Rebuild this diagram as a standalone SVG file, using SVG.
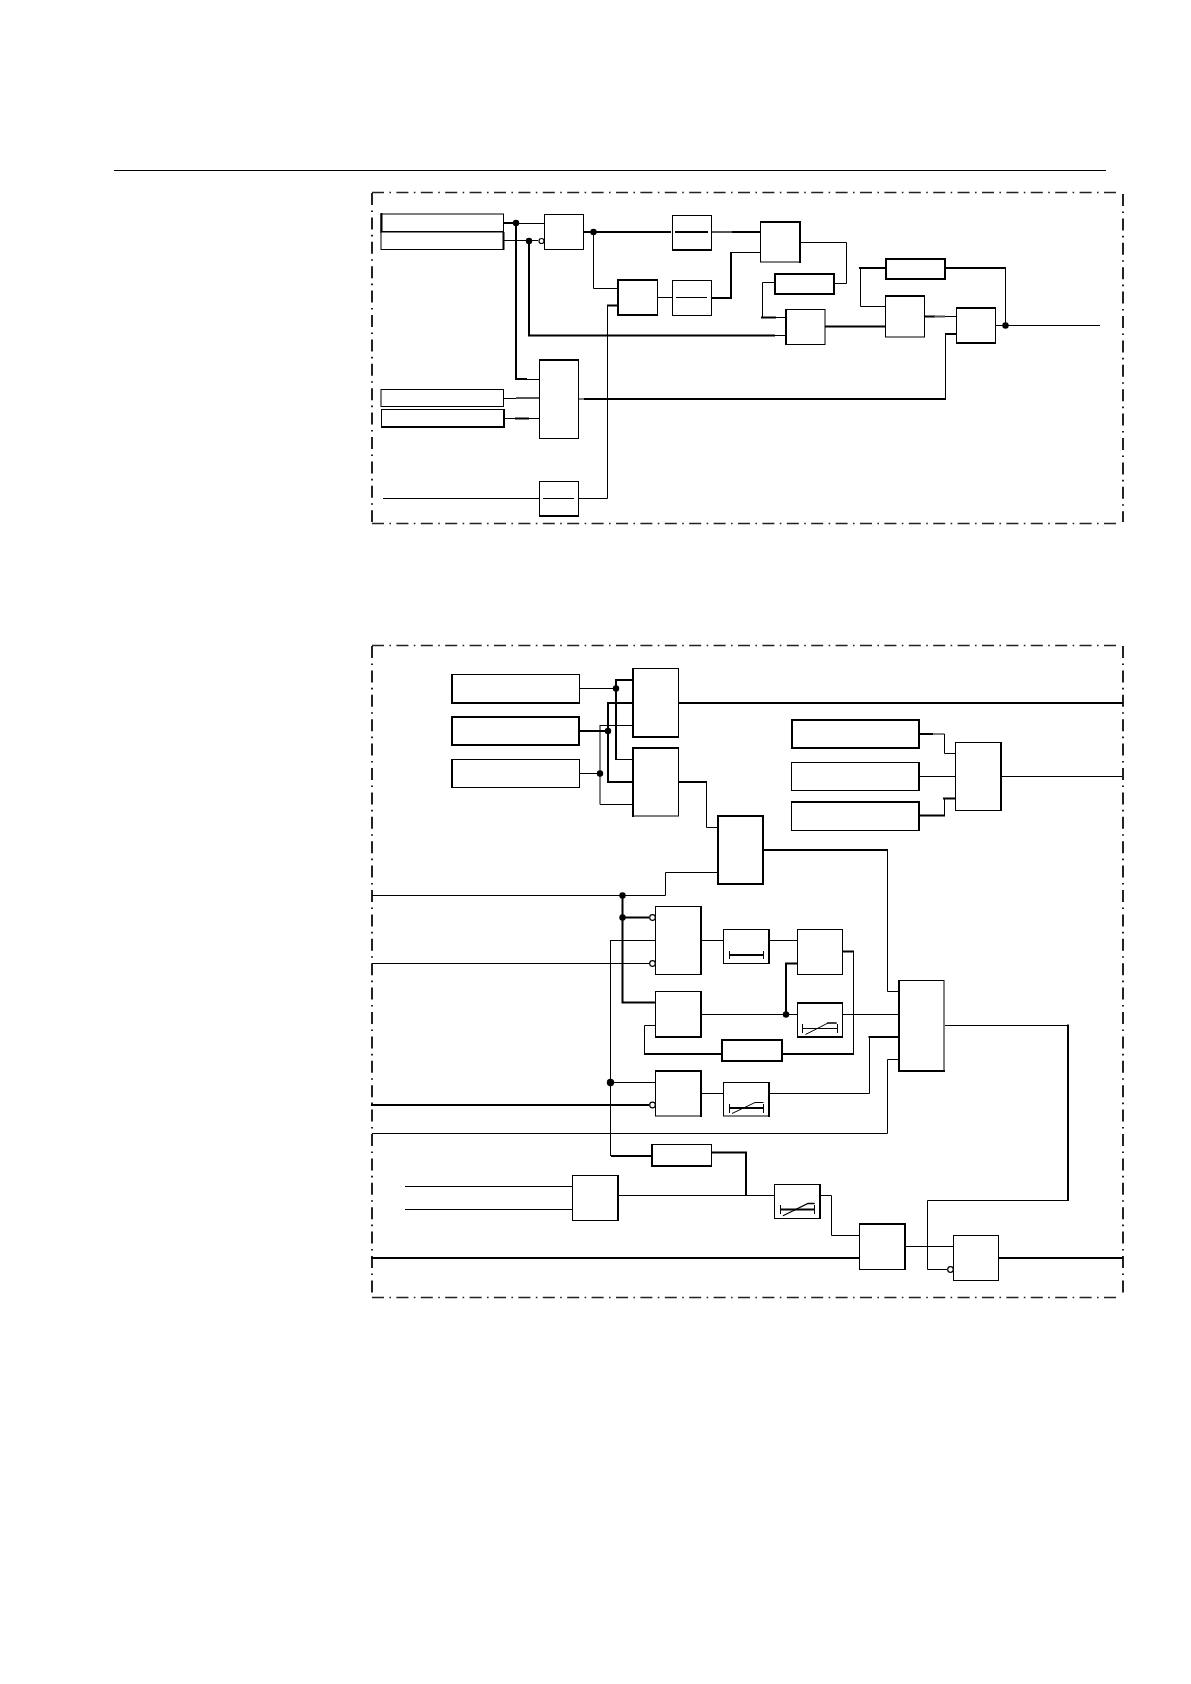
<svg xmlns="http://www.w3.org/2000/svg" width="1191" height="1684" viewBox="0 0 1191 1684">
<style>
.b{fill:#fff;stroke:#000;stroke-width:1}
.k{fill:none;stroke:#000;stroke-width:2;stroke-linecap:square}
.t{fill:none;stroke:#000;stroke-width:1}
.g{fill:none;stroke:#555;stroke-width:2}
.f{fill:none;stroke:#222;stroke-width:1.600;stroke-dasharray:12 5.400 1.600 5.400}
.v{stroke-width:2}
.d{fill:#000;stroke:none}
.o{fill:#fff;stroke:#000;stroke-width:1.200}
</style>
<rect width="1191" height="1684" fill="#fff"/>
<path class="t" d="M114 170.500H1106"/>
<g id="frames">
<path class="f" d="M372 192.500H1118M372 523.500H1118"/>
<path class="f v" d="M372 193V522M1123 194V522"/>
<path class="f" d="M372 645.500H1118M372 1297.500H1118"/>
<path class="f v" d="M372 646V1296M1123 646V1295"/>
</g>
<g id="connectors">
<path class="t" d="M516 223.500H544M503 240.500H538M593.500 232V288.500H618M618 297.500H672M731.500 252.500H760M800 242.500H846.500V283.500H835M775 282.500H762.500V317M775 317.500H785M775 335.500H785M526 379.500H539M504 398.500H539M504 418.500H539M579 399H600M383 498.500H539M579 498.500H607.500V306M885 306.500H860.500V268M956 316.500H925M1005.500 268V325M996 325.500H1100M945.500 399V334"/>
<path class="k" d="M504 223H516V379H526M584 232H670M732 232H760M529 241V335.500H774M712 298H731M731 298V253M608 305.500H618M762 317.500H775M825 326.500H885M860 268H885M946 268H1005M925 316.500H934M946 334H956M585 399H945M516 418.500H528"/>
<path class="g" d="M712 232H732M516 398H539M934 316.500H945"/>
<path class="t" d="M580 688.500H616M616 759.500H633M600 725.500H633M600 725V804.500H633M580 773.500H600M706.500 782V827.500H718M718 872.500H665.500V895.500H372M655 940.500H610.500M610.500 940V1156M655 1082.500H610.500M372 963.500H650M372 1133.500H887.500V1059.500H899M702 940.500H723M770 940.500H797M655 1025.500H644.500V1054M702 1014.500H797M843 1014.500H899M887.500 850V991.500H899M702 1093.500H723M770 1093.500H869.500V1037M853.500 951V1054M618 1195.500H774M821 1195.500H831.500V1235.500H859M905 1246.500H953M945 1025.500H1068M1068 1200.500H927.500V1269.500H947M919 776.500H955M1001 776.500H1122M932 734H944.500V753.500H955M944.500 815V798.500H955M405 1186.500H572M405 1209.500H572"/>
<path class="k" d="M616 680H633M616 680V759M608 703H633M608 703V782H633M580 731H608M678 703H1122M678 782H706M764 850H887M622.500 895.500V1002.500H655M622.500 917.500H648M645 1054H721M783 1054H853M843 951.500H853M786 1014V963.500H797M869.500 1037H899M372 1105H648M651 1156H612M712 1152.500H746V1195M372 1258H859M1068 1025.500V1200M999 1258H1122M920 734H932M920 815.500H944M944 798.500H955"/>
</g>
<g id="n1"><rect class="b" x="381" y="214" width="122.500" height="18"/><path class="k" d="M381.500 214V232H503"/></g>
<g id="n2"><rect class="b" x="381" y="232" width="122.500" height="17.500"/><path class="k" d="M503.500 233V249"/></g>
<g id="n3"><rect class="b" x="544.500" y="214.500" width="39" height="35"/></g>
<g id="n4"><rect class="b" x="672.500" y="215.500" width="39" height="34.500"/><path class="k" d="M673 250H711M676 232H707"/></g>
<g id="n5"><rect class="b" x="618" y="280" width="39.500" height="35"/><path class="k" d="M618 280H657M618 280V315H657"/></g>
<g id="n6"><rect class="b" x="672.500" y="280.500" width="39" height="35"/><path class="t" d="M676 297.500H707"/></g>
<g id="n7"><rect class="b" x="539.500" y="360.500" width="39" height="78"/><path class="k" d="M540 360H578"/></g>
<g id="n8"><rect class="b" x="381" y="389.500" width="122.500" height="17"/></g>
<g id="n9"><rect class="b" x="381.500" y="409.500" width="122.500" height="17"/><path class="k" d="M382 427H504V410"/></g>
<g id="n10"><rect class="b" x="539.500" y="481.500" width="39" height="34.500"/><path class="k" d="M540 516H578"/><path class="t" d="M543 498.500H574"/></g>
<g id="n11"><rect class="b" x="760.500" y="222" width="39.500" height="40"/><path class="k" d="M761 222H800V262"/></g>
<g id="n12"><rect class="b" x="775" y="274" width="59.500" height="20"/><path class="k" d="M775 274H834V294H775Z"/></g>
<g id="n13"><rect class="b" x="785.500" y="309.500" width="39.500" height="35"/><path class="k" d="M786 310V344"/></g>
<g id="n14"><rect class="b" x="885.500" y="296" width="39" height="41"/><path class="k" d="M886 296H924"/></g>
<g id="n15"><rect class="b" x="885.500" y="259" width="60" height="20"/><path class="k" d="M886 259H945V279H886Z"/></g>
<g id="n16"><rect class="b" x="956.500" y="307.500" width="39" height="35.500"/><path class="k" d="M957 308H995M957 343H995"/></g>
<g id="n17"><rect class="b" x="452" y="674.500" width="127.500" height="28.500"/><path class="k" d="M452 675V703H579"/></g>
<g id="n18"><rect class="b" x="452" y="717" width="127.500" height="28"/><path class="k" d="M452 717H579V745H452Z"/></g>
<g id="n19"><rect class="b" x="452" y="759.500" width="127.500" height="28"/><path class="k" d="M452 760V787"/></g>
<g id="n20"><rect class="b" x="633" y="668.500" width="45.500" height="68.500"/><path class="k" d="M633 669V737H678"/></g>
<g id="n21"><rect class="b" x="633" y="748" width="45.500" height="68"/><path class="k" d="M633 816V748H678"/></g>
<g id="n22"><rect class="b" x="718" y="816" width="45" height="68"/><path class="k" d="M718 884V816H763V884H718"/></g>
<g id="n23"><rect class="b" x="791.500" y="720" width="128" height="27.500"/><path class="k" d="M792 720H919V748H792Z"/></g>
<g id="n24"><rect class="b" x="791.500" y="762.500" width="128" height="28"/><path class="k" d="M919 763V790"/></g>
<g id="n25"><rect class="b" x="791.500" y="802" width="128" height="28.500"/><path class="k" d="M792 802H919V830"/></g>
<g id="n26"><rect class="b" x="955.500" y="742.500" width="45.500" height="68"/><path class="k" d="M1001 743V810"/></g>
<g id="n27"><rect class="b" x="655.500" y="906.500" width="45.500" height="68"/><path class="k" d="M701 907V974"/></g>
<g id="n28"><rect class="b" x="723.500" y="929.500" width="46" height="34"/><path class="k" d="M769 930V963M730 955H763"/><path class="t" d="M729.500 951V959M763.500 951V959"/></g>
<g id="n29"><rect class="b" x="797.500" y="929.500" width="45" height="45"/></g>
<g id="n30"><rect class="b" x="655.500" y="991.500" width="45.500" height="45.500"/><path class="k" d="M701 992V1037H656"/></g>
<g id="n31"><rect class="b" x="721.500" y="1039.500" width="61" height="21.500"/><path class="k" d="M722 1040H782V1061H722Z"/></g>
<g id="n32"><rect class="b" x="797.500" y="1003" width="45" height="34.500"/><path class="k" d="M798 1003H842M798 1037H842"/><path class="t" d="M803 1028.500H837.500M802.500 1024V1033M837.500 1024V1033M805.500 1034.500L828 1023"/><path class="k" style="stroke-width:1.500" d="M828 1023H836"/></g>
<g id="n33"><rect class="b" x="655.500" y="1071" width="45.500" height="45"/><path class="k" d="M656 1071H701V1116"/></g>
<g id="n34"><rect class="b" x="723.500" y="1082.500" width="46" height="33.500"/><path class="k" d="M769 1083V1116M730 1108H763"/><path class="t" d="M729.500 1104V1113M763.500 1104V1113M732 1113.500L755 1102.500H763.500"/></g>
<g id="n35"><rect class="b" x="651.500" y="1144.500" width="60" height="21.500"/><path class="k" d="M652 1145V1166H711"/></g>
<g id="n36"><rect class="b" x="572.500" y="1175.500" width="46" height="45"/><path class="k" d="M618 1176V1220"/></g>
<g id="n37"><rect class="b" x="774.500" y="1184.500" width="46" height="34"/><path class="k" d="M820 1185V1218M781 1209.500H814"/><path class="t" d="M780.500 1205V1214M814.500 1205V1214"/><path class="k" style="stroke-width:1.300" d="M783.500 1215.500L808 1203.500H814"/></g>
<g id="n38"><rect class="b" x="859.500" y="1224" width="45.500" height="45.500"/><path class="k" d="M860 1224H905V1269"/></g>
<g id="n39"><rect class="b" x="953.500" y="1235.500" width="45" height="45"/></g>
<g id="n40"><rect class="b" x="898.500" y="980.500" width="45.500" height="90.500"/><path class="k" d="M899 981V1071H944"/></g>
<g id="junctions">
<circle class="d" cx="516" cy="223" r="3.200"/><circle class="d" cx="529" cy="241" r="3.200"/><circle class="d" cx="593.500" cy="232" r="3.200"/><circle class="d" cx="1005.500" cy="325.500" r="3.200"/>
<circle class="d" cx="616" cy="688.500" r="3.200"/><circle class="d" cx="608" cy="731" r="3.200"/><circle class="d" cx="600" cy="773.500" r="3.200"/>
<circle class="d" cx="622.500" cy="895.500" r="3.200"/><circle class="d" cx="622.500" cy="917.500" r="3.200"/><circle class="d" cx="610.500" cy="1082.500" r="3.700"/><circle class="d" cx="786" cy="1014.500" r="3.200"/>
<circle class="o" cx="541.500" cy="241" r="2.500"/><circle class="o" cx="652.500" cy="917.500" r="2.800"/><circle class="o" cx="652.500" cy="963.500" r="2.800"/><circle class="o" cx="652.500" cy="1105" r="2.800"/><circle class="o" cx="950.500" cy="1269.500" r="2.800"/>
</g>
</svg>
